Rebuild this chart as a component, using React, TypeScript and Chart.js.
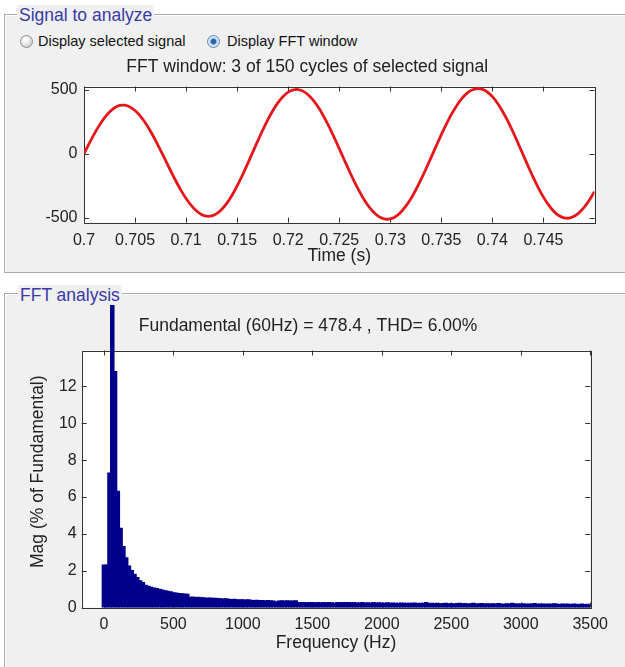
import React, { useEffect, useRef } from 'react';
import { Chart, registerables } from 'chart.js';

Chart.register(...registerables);

const FONT = '"Liberation Sans", Arial, Helvetica, sans-serif';
const INK = '#222222';

// ---- Signal (FFT window) ----
const timeS = [
  0.7000, 0.7005, 0.7010, 0.7015, 0.7020, 0.7025, 0.7030, 0.7035, 0.7040, 0.7045,
  0.7050, 0.7055, 0.7060, 0.7065, 0.7070, 0.7075, 0.7080, 0.7085, 0.7090, 0.7095,
  0.7100, 0.7105, 0.7110, 0.7115, 0.7120, 0.7125, 0.7130, 0.7135, 0.7140, 0.7145,
  0.7150, 0.7155, 0.7160, 0.7165, 0.7170, 0.7175, 0.7180, 0.7185, 0.7190, 0.7195,
  0.7200, 0.7205, 0.7210, 0.7215, 0.7220, 0.7225, 0.7230, 0.7235, 0.7240, 0.7245,
  0.7250, 0.7255, 0.7260, 0.7265, 0.7270, 0.7275, 0.7280, 0.7285, 0.7290, 0.7295,
  0.7300, 0.7305, 0.7310, 0.7315, 0.7320, 0.7325, 0.7330, 0.7335, 0.7340, 0.7345,
  0.7350, 0.7355, 0.7360, 0.7365, 0.7370, 0.7375, 0.7380, 0.7385, 0.7390, 0.7395,
  0.7400, 0.7405, 0.7410, 0.7415, 0.7420, 0.7425, 0.7430, 0.7435, 0.7440, 0.7445,
  0.7450, 0.7455, 0.7460, 0.7465, 0.7470, 0.7475, 0.7480, 0.7485, 0.7490, 0.7495,
  0.7500,
];
const signalV = [
  0, 78, 153, 221, 280, 326, 359, 377, 379, 365,
  337, 295, 241, 177, 104, 26, -55, -136, -214, -287,
  -351, -405, -447, -475, -489, -487, -469, -435, -387, -325,
  -252, -171, -84, 6, 96, 183, 264, 337, 399, 447,
  481, 499, 501, 487, 457, 413, 357, 288, 212, 127,
  39, -50, -138, -223, -299, -368, -424, -468, -498, -512,
  -510, -493, -460, -413, -354, -283, -204, -118, -29, 61,
  149, 232, 309, 375, 430, 471, 497, 509, 504, 482,
  446, 394, 330, 256, 173, 84, -7, -98, -186, -267,
  -340, -401, -450, -484, -502, -504, -490, -461, -419, -363,
  -297,
];
const timeTicks = [0.7, 0.705, 0.71, 0.715, 0.72, 0.725, 0.73, 0.735, 0.74, 0.745];
const timeTickLabels = ['0.7', '0.705', '0.71', '0.715', '0.72', '0.725', '0.73', '0.735', '0.74', '0.745'];
const signalYTicks = [-500, 0, 500];

// ---- FFT analysis ----
const fftFreqs = [
  0, 20, 40, 60, 80, 100, 120, 140, 160, 180,
  200, 220, 240, 260, 280, 300, 320, 340, 360, 380,
  400, 420, 440, 460, 480, 500, 520, 540, 560, 580,
  600, 620, 640, 660, 680, 700, 720, 740, 760, 780,
  800, 820, 840, 860, 880, 900, 920, 940, 960, 980,
  1000, 1020, 1040, 1060, 1080, 1100, 1120, 1140, 1160, 1180,
  1200, 1220, 1240, 1260, 1280, 1300, 1320, 1340, 1360, 1380,
  1400, 1420, 1440, 1460, 1480, 1500, 1520, 1540, 1560, 1580,
  1600, 1620, 1640, 1660, 1680, 1700, 1720, 1740, 1760, 1780,
  1800, 1820, 1840, 1860, 1880, 1900, 1920, 1940, 1960, 1980,
  2000, 2020, 2040, 2060, 2080, 2100, 2120, 2140, 2160, 2180,
  2200, 2220, 2240, 2260, 2280, 2300, 2320, 2340, 2360, 2380,
  2400, 2420, 2440, 2460, 2480, 2500, 2520, 2540, 2560, 2580,
  2600, 2620, 2640, 2660, 2680, 2700, 2720, 2740, 2760, 2780,
  2800, 2820, 2840, 2860, 2880, 2900, 2920, 2940, 2960, 2980,
  3000, 3020, 3040, 3060, 3080, 3100, 3120, 3140, 3160, 3180,
  3200, 3220, 3240, 3260, 3280, 3300, 3320, 3340, 3360, 3380,
  3400, 3420, 3440, 3460, 3480, 3500,
];
const fftMag = [
  2.3, 2.3, 7.3, 100, 12.8, 6.3, 4.3, 3.3, 2.7, 2.25,
  2.0, 1.8, 1.62, 1.45, 1.35, 1.2, 1.15, 1.1, 1.05, 1.02,
  0.98, 0.95, 0.9, 0.87, 0.85, 0.8, 0.78, 0.76, 0.74, 0.73,
  0.72, 0.55, 0.56, 0.54, 0.55, 0.53, 0.52, 0.5, 0.51, 0.49,
  0.5, 0.48, 0.47, 0.46, 0.47, 0.44, 0.43, 0.44, 0.42, 0.42,
  0.41, 0.4, 0.41, 0.39, 0.38, 0.39, 0.37, 0.37, 0.36, 0.37,
  0.36, 0.35, 0.29, 0.35, 0.36, 0.35, 0.36, 0.35, 0.35, 0.36,
  0.26, 0.26, 0.27, 0.25, 0.26, 0.26, 0.25, 0.26, 0.25, 0.26,
  0.25, 0.26, 0.25, 0.22, 0.27, 0.26, 0.27, 0.26, 0.27, 0.25,
  0.26, 0.24, 0.25, 0.26, 0.24, 0.25, 0.23, 0.26, 0.24, 0.25,
  0.24, 0.23, 0.25, 0.22, 0.24, 0.23, 0.22, 0.24, 0.23, 0.22,
  0.23, 0.22, 0.24, 0.21, 0.23, 0.22, 0.26, 0.21, 0.22, 0.21,
  0.22, 0.2, 0.21, 0.22, 0.2, 0.21, 0.19, 0.21, 0.22, 0.2,
  0.21, 0.19, 0.2, 0.22, 0.19, 0.2, 0.21, 0.18, 0.2, 0.19,
  0.2, 0.18, 0.21, 0.19, 0.17, 0.2, 0.19, 0.22, 0.18, 0.19,
  0.18, 0.2, 0.17, 0.19, 0.18, 0.21, 0.17, 0.19, 0.18, 0.17,
  0.19, 0.17, 0.2, 0.18, 0.16, 0.19, 0.17, 0.18, 0.16, 0.18,
  0.17, 0.15, 0.18, 0.16, 0.17, 0.15,
];
const fftXTicks = [0, 500, 1000, 1500, 2000, 2500, 3000, 3500];
const fftYTicks = [0, 2, 4, 6, 8, 10, 12];

// MATLAB-like axes box with inward tick marks on all four sides
const matlabAxes = {
  id: 'matlabAxes',
  beforeDraw(chart: any) {
    const { ctx, chartArea: a } = chart;
    ctx.save();
    ctx.fillStyle = '#ffffff';
    ctx.fillRect(a.left, a.top, a.right - a.left, a.bottom - a.top);
    ctx.restore();
  },
  beforeDatasetsDraw(chart: any) {
    const { ctx, chartArea: a, scales } = chart;
    const tl = 5;
    ctx.save();
    ctx.strokeStyle = '#333333';
    ctx.lineWidth = 1;
    ctx.beginPath();
    for (const t of scales.x.ticks) {
      const px = Math.round(scales.x.getPixelForValue(t.value)) + 0.5;
      ctx.moveTo(px, a.bottom);
      ctx.lineTo(px, a.bottom - tl);
      ctx.moveTo(px, a.top);
      ctx.lineTo(px, a.top + tl);
    }
    for (const t of scales.y.ticks) {
      const py = Math.round(scales.y.getPixelForValue(t.value)) + 0.5;
      ctx.moveTo(a.left, py);
      ctx.lineTo(a.left + tl, py);
      ctx.moveTo(a.right, py);
      ctx.lineTo(a.right - tl, py);
    }
    ctx.stroke();
    ctx.strokeRect(
      Math.round(a.left) + 0.5,
      Math.round(a.top) + 0.5,
      Math.round(a.right - a.left),
      Math.round(a.bottom - a.top)
    );
    ctx.restore();
  },
};

const tickFont = { family: FONT, size: 16, weight: 'normal' as const };
const titleFont = { family: FONT, size: 17.5, weight: 'normal' as const };

function signalConfig(): any {
  return {
    type: 'line',
    data: {
      datasets: [
        {
          data: timeS.map((t, i) => ({ x: t, y: signalV[i] })),
          borderColor: '#e5161c',
          borderWidth: 2.8,
          pointRadius: 0,
          tension: 0.3,
          fill: false,
        },
      ],
    },
    options: {
      animation: false,
      responsive: false,
      events: [],
      layout: { padding: { left: 0, right: 15.5, top: 0, bottom: 0 } },
      plugins: {
        legend: { display: false },
        tooltip: { enabled: false },
        title: {
          display: true,
          text: 'FFT window: 3 of 150 cycles of selected signal',
          color: INK,
          font: titleFont,
          padding: { top: 2, bottom: 8.5 },
        },
      },
      scales: {
        x: {
          type: 'linear',
          min: 0.7,
          max: 0.75,
          grid: { display: false, drawTicks: false },
          border: { display: false },
          afterBuildTicks: (s: any) => {
            s.ticks = timeTicks.map((v) => ({ value: v }));
          },
          afterFit: (s: any) => {
            s.height = 44.3;
          },
          ticks: {
            callback: (_v: any, i: number) => timeTickLabels[i],
            color: INK,
            font: tickFont,
            padding: 8,
            autoSkip: false,
            maxRotation: 0,
          },
          title: {
            display: true,
            text: 'Time (s)',
            color: INK,
            font: titleFont,
            padding: { top: 0, bottom: 0 },
          },
        },
        y: {
          type: 'linear',
          min: -540,
          max: 525,
          grid: { display: false, drawTicks: false },
          border: { display: false },
          afterBuildTicks: (s: any) => {
            s.ticks = signalYTicks.map((v) => ({ value: v }));
          },
          afterFit: (s: any) => {
            s.width = 64;
          },
          ticks: {
            callback: (v: any) => String(v),
            color: INK,
            font: tickFont,
            padding: 6.5,
            autoSkip: false,
          },
        },
      },
    },
    plugins: [matlabAxes],
  };
}

function fftConfig(): any {
  return {
    type: 'bar',
    data: {
      datasets: [
        {
          data: fftFreqs.map((f, i) => ({ x: f, y: fftMag[i] })),
          backgroundColor: '#00008b',
          borderColor: '#00008b',
          borderWidth: 0,
          inflateAmount: 0.6,
          barPercentage: 1.2,
          categoryPercentage: 1,
          clip: { left: 0, right: 0, bottom: 0, top: false },
        },
      ],
    },
    options: {
      animation: false,
      responsive: false,
      events: [],
      layout: { padding: { left: 0, right: 19, top: 0, bottom: 0 } },
      plugins: {
        legend: { display: false },
        tooltip: { enabled: false },
        title: {
          display: true,
          text: 'Fundamental (60Hz) = 478.4 , THD= 6.00%',
          color: INK,
          font: titleFont,
          padding: { top: 11.5, bottom: 14 },
        },
      },
      scales: {
        x: {
          type: 'linear',
          min: -160,
          max: 3500,
          offset: false,
          grid: { display: false, drawTicks: false, offset: false },
          border: { display: false },
          afterBuildTicks: (s: any) => {
            s.ticks = fftXTicks.map((v) => ({ value: v }));
          },
          afterFit: (s: any) => {
            s.height = 59.5;
          },
          ticks: {
            callback: (v: any) => String(v),
            color: INK,
            font: tickFont,
            padding: 7,
            autoSkip: false,
            maxRotation: 0,
          },
          title: {
            display: true,
            text: 'Frequency (Hz)',
            color: INK,
            font: titleFont,
            padding: { top: 0, bottom: 13.5 },
          },
        },
        y: {
          type: 'linear',
          min: 0,
          max: 13.95,
          grid: { display: false, drawTicks: false },
          border: { display: false },
          afterBuildTicks: (s: any) => {
            s.ticks = fftYTicks.map((v) => ({ value: v }));
          },
          afterFit: (s: any) => {
            s.width = 61.7;
          },
          ticks: {
            callback: (v: any) => String(v),
            color: INK,
            font: tickFont,
            padding: 5,
            autoSkip: false,
          },
          title: {
            display: true,
            text: '   Mag (% of Fundamental)',
            color: INK,
            font: titleFont,
            padding: { top: 7.5, bottom: 0 },
          },
        },
      },
    },
    plugins: [matlabAxes],
  };
}

function ChartCanvas(props: { make: () => any; left: number; top: number; width: number; height: number }) {
  const ref = useRef<HTMLCanvasElement | null>(null);
  useEffect(() => {
    if (!ref.current) return;
    const chart = new Chart(ref.current, props.make());
    return () => chart.destroy();
  }, []);
  return (
    <canvas
      ref={ref}
      width={props.width}
      height={props.height}
      style={{
        position: 'absolute',
        left: props.left,
        top: props.top,
        width: props.width,
        height: props.height,
      }}
    />
  );
}

const panelBorder = '1px solid #a9a9a9';

function Radio(props: { cx: number; cy: number; selected: boolean }) {
  const d = 13;
  return (
    <div
      style={{
        position: 'absolute',
        left: props.cx - d / 2,
        top: props.cy - d / 2,
        width: d,
        height: d,
        boxSizing: 'border-box',
        borderRadius: '50%',
        border: props.selected ? '1px solid #5b86ad' : '1px solid #8f8f8f',
        background: props.selected
          ? 'radial-gradient(circle, #1d5ea6 0px, #2b6cb3 2.4px, #bcd8f0 3.4px, #e6f1fb 6px)'
          : 'radial-gradient(circle at 40% 35%, #ffffff 0px, #f2f2f2 3px, #d4d4d4 6.5px)',
      }}
    />
  );
}

const radioText: React.CSSProperties = {
  position: 'absolute',
  top: 32,
  lineHeight: '18px',
  fontSize: 14.5,
  color: '#111',
  whiteSpace: 'nowrap',
};

const panelLabel: React.CSSProperties = {
  position: 'absolute',
  height: 20,
  lineHeight: '20px',
  padding: '0 2px',
  background: '#f0f0f0',
  color: '#3a3aa6',
  fontSize: 17.5,
  whiteSpace: 'nowrap',
};

export default function App() {
  return (
    <div
      style={{
        position: 'absolute',
        left: 0,
        top: 0,
        width: 625,
        height: 667,
        background: '#ffffff',
        overflow: 'hidden',
        fontFamily: FONT,
      }}
    >
      {/* Signal to analyze panel */}
      <div
        style={{
          position: 'absolute',
          left: 4,
          top: 14,
          width: 660,
          height: 257,
          background: '#f0f0f0',
          border: panelBorder,
          boxShadow: 'inset 1px 1px 0 #ffffff',
        }}
      />
      <div style={{ ...panelLabel, left: 17, top: 5 }}>Signal to analyze</div>
      <Radio cx={26} cy={41} selected={false} />
      <div style={{ ...radioText, left: 38 }}>Display selected signal</div>
      <Radio cx={213} cy={41} selected={true} />
      <div style={{ ...radioText, left: 227 }}>Display FFT window</div>
      <ChartCanvas make={signalConfig} left={20} top={55} width={590} height={212} />

      {/* FFT analysis panel */}
      <div
        style={{
          position: 'absolute',
          left: 4,
          top: 293,
          width: 660,
          height: 420,
          background: '#f0f0f0',
          border: panelBorder,
          boxShadow: 'inset 1px 1px 0 #ffffff',
        }}
      />
      <ChartCanvas make={fftConfig} left={20} top={304} width={595} height={363} />
      <div style={{ ...panelLabel, left: 18, top: 285 }}>FFT analysis</div>
    </div>
  );
}
